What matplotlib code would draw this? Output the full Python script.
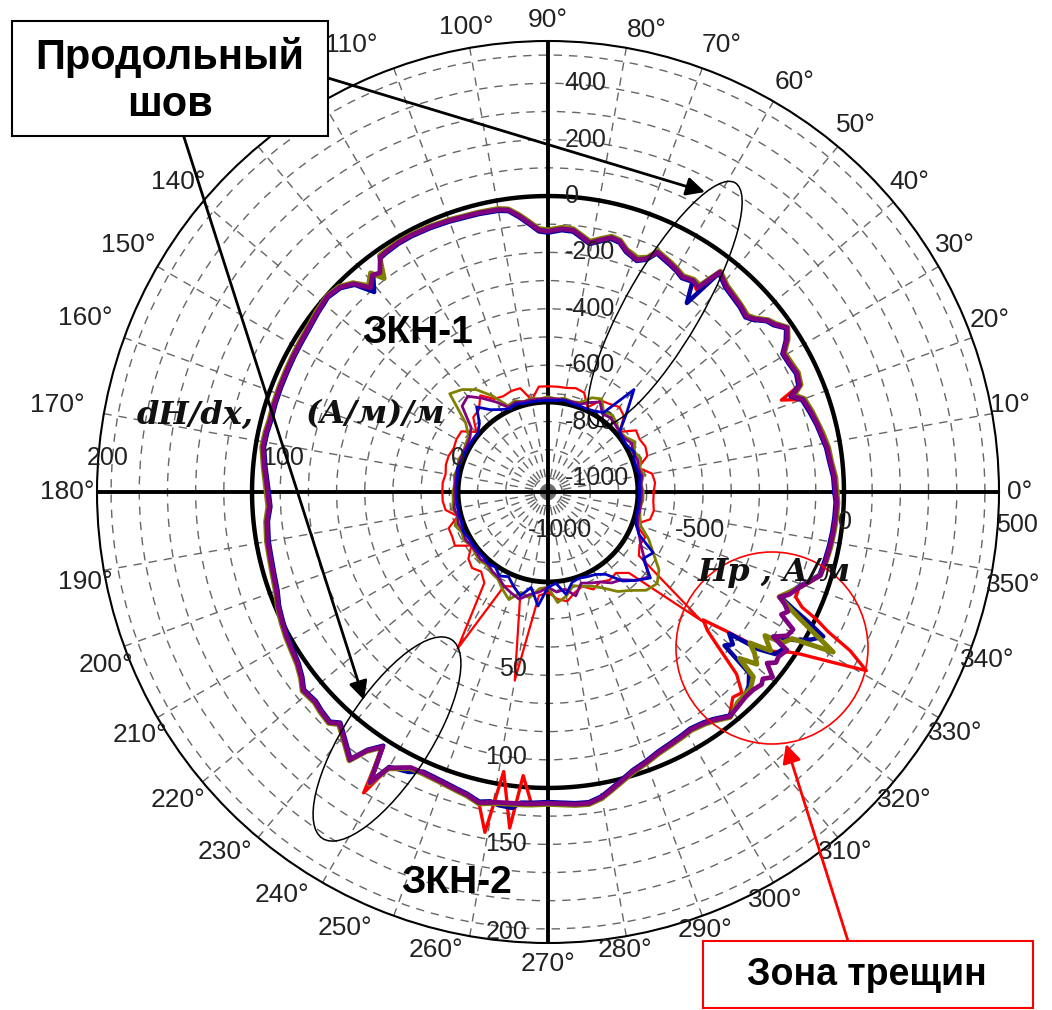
import numpy as np
import matplotlib.pyplot as plt
from matplotlib.patches import Ellipse, Rectangle, Circle, FancyArrowPatch

plt.rcParams['font.family'] = ['Liberation Sans', 'DejaVu Sans']

# Hp field around the pipe circumference, A/m (angle in degrees)
ang = [0, 3, 6, 9, 12, 14, 17, 20, 21.5, 23,
       25.5, 28, 30.5, 32.5, 34.5, 36.5, 38, 40, 41.5, 44,
       46, 49, 52, 53.7, 55.5, 58, 60, 62, 65.5, 67,
       69, 72, 74, 76, 78, 80.5, 82, 84.5, 87, 90,
       92, 94, 96, 98, 100, 104, 107, 110, 114, 118,
       121, 124, 125.5, 127.5, 129, 131, 133, 135.5, 138.5, 142,
       146, 149, 152, 155, 158.5, 162, 165.5, 168, 171, 175,
       179, 183, 186, 190, 193, 196.5, 200, 203, 206, 209,
       212, 214.5, 217, 219, 222, 224, 226.5, 228, 230, 233.5,
       235, 237, 238.5, 240, 243.5, 246, 250, 253, 255, 257.5,
       259.5, 261, 263.5, 265, 267, 270, 273, 275, 277.5, 280,
       282, 284.5, 287, 290, 293, 296, 299, 301, 304, 306,
       309, 312, 314, 316, 318, 319, 320.5, 322, 323.2, 324.5,
       326.5, 327.3, 329, 330.7, 332.3, 333.5, 334.6, 335.6, 337, 339.3,
       341, 343, 346, 349, 352, 355, 358]

hp_purple = [-30, -33, -42, -47, -58, -64, -75, -88, -120, -80,
             -71, -78, -81, -45, -21, -50, -62, -95, -110, -100,
             -95, -85, -60, -150, -140, -150, -139, -130, -115, -150,
             -168, -150, -125, -120, -135, -154, -140, -117, -115, -125,
             -120, -93, -65, -40, -33, -30, -29, -25, -21, -18,
             -18, -22, -25, -70, -60, -90, -40, -14, -4, -12,
             -21, -24, -26, -28, -29, -30, -32, -28, -26, -40,
             -53, -60, -47, -40, -38, -33, -25, -10, 0, 10,
             18, 27, 45, 68, 62, 70, 77, 55, 80, 132,
             70, 27, 160, 80, 42, 40, 46, 55, 62, 79,
             70, 65, 61, 60, 58, 54, 58, 62, 64, 50,
             30, 6, -15, -30, -46, -55, -62, -67, -60, -50,
             -25, -35, -40, -39, -30, -40, -17, -64, -40, -45,
             -33, -100, -60, -53, -115, -99, -120, -147, -120, -95,
             -70, -39, -35, -31, -28, -26, -25]

hp_olive = [-25, -28, -38, -42, -52, -60, -70, -82, -110, -75,
            -66, -72, -76, -40, -18, -45, -58, -90, -104, -96,
            -90, -80, -56, -140, -135, -145, -134, -125, -110, -145,
            -160, -145, -120, -115, -130, -148, -135, -112, -110, -120,
            -115, -88, -60, -36, -29, -27, -26, -22, -18, -15,
            -15, -18, -20, -95, -50, -80, -35, -10, -2, -8,
            -17, -20, -22, -24, -25, -26, -28, -24, -22, -36,
            -48, -55, -43, -36, -34, -29, -21, -7, 4, 14,
            22, 31, 49, 72, 66, 74, 81, 60, 84, 136,
            74, 31, 165, 84, 46, 44, 50, 59, 66, 83,
            74, 69, 65, 64, 62, 58, 62, 66, 68, 54,
            34, 10, -11, -26, -42, -51, -58, -63, -56, -46,
            -22, -45, -48, -50, -70, -150, -90, -120, -156, -80,
            -127, -60, -40, 110, 5, -60, -110, -150, -130, -95,
            -70, -40, -32, -28, -25, -22, -21]

hp_blue = [-34, -37, -46, -51, -62, -68, -80, -92, -125, -85,
           -75, -82, -85, -50, -25, -55, -66, -100, -115, -105,
           -100, -90, -65, -218, -145, -155, -143, -135, -120, -155,
           -172, -155, -130, -125, -140, -158, -145, -122, -120, -130,
           -125, -98, -70, -44, -37, -34, -33, -29, -25, -22,
           -22, -26, -29, -75, -65, -110, -45, -18, -8, -16,
           -25, -28, -30, -32, -33, -34, -36, -32, -30, -44,
           -57, -64, -51, -44, -42, -37, -29, -14, -4, 6,
           14, 23, 41, 64, 58, 66, 73, 51, 76, 128,
           66, 23, 155, 76, 60, 36, 42, 51, 58, 75,
           66, 75, 78, 56, 54, 50, 54, 58, 60, 46,
           26, 2, -19, -34, -50, -59, -66, -71, -64, -54,
           -29, -40, -45, -60, -90, -220, -200, -234, -120, -60,
           -45, -100, -30, 20, 53, -20, -90, -140, -125, -100,
           -74, -43, -39, -35, -32, -30, -29]

hp_red = [-32, -35, -44, -49, -60, -66, -78, -90, -160, -82,
          -73, -80, -83, -47, -23, -52, -64, -97, -112, -102,
          -97, -87, -62, -160, -142, -152, -141, -132, -117, -152,
          -170, -152, -127, -122, -137, -156, -142, -119, -117, -127,
          -122, -95, -67, -42, -35, -32, -31, -27, -23, -20,
          -20, -24, -27, -75, -62, -95, -42, -16, -6, -14,
          -23, -26, -28, -30, -31, -32, -34, -30, -28, -42,
          -55, -62, -49, -42, -40, -35, -27, -12, -2, 8,
          16, 25, 43, 66, 60, 68, 75, 53, 78, 134,
          68, 25, 202, 80, 44, 42, 48, 57, 64, 81,
          178, -46, 150, -40, 60, 56, 60, 64, 66, 52,
          32, 8, -13, -28, -44, -53, -60, -65, -58, -48,
          -27, -70, -60, -120, -250, -300, -337, -250, -150, -77,
          -20, 15, 120, 245, 160, 60, 5, -60, -95, -97,
          -72, -41, -37, -33, -30, -28, -27]

# dH/dx, (A/m)/m, every 5 degrees
dh_ang = list(range(0, 360, 5))
dh_red = [9, 10, 9, 2, 9, 10, 9, 10, 2, 10,
          12, 10, 9, 2, 9, 10, 9, 9, 9, 9,
          2, 10, 10, 9, 10, 16, 10, 9, 2, 9,
          9, 8, 9, 9, 8, 9, 9, 9, 8, 2,
          9, 9, 10, 2, 8, 10, 8, 12, 52, 8,
          6, 10, 58, 8, 6, 10, 12, 8, 6, 10,
          8, 10, 9, 14, 63, 12, 9, 10, 2, 9,
          10, 9]
dh_blue = [1, 1, 2, 1, 1, 3, 1, 1, 2, 12,
           25, 4, 2, 1, 1, 1, 2, 1, 1, 1,
           1, 1, 2, 1, 3, 6, 12, 4, 1, 1,
           1, 1, 1, 2, 1, 1, 1, 1, 1, 1,
           1, 2, 1, 1, 1, 1, 2, 1, 4, 2,
           6, 10, 4, 14, 3, 1, 8, 2, 1, 2,
           3, 6, 15, 20, 25, 15, 18, 6, 2, 1,
           1, 1]
dh_olive = [3, 2, 4, 3, 5, 3, 6, 3, 2, 4,
            6, 4, 10, 8, 3, 2, 3, 2, 3, 2,
            3, 2, 4, 3, 12, 20, 25, 28, 10, 4,
            3, 2, 3, 2, 3, 2, 3, 3, 4, 2,
            5, 3, 4, 2, 3, 4, 3, 5, 6, 10,
            14, 8, 10, 4, 3, 12, 9, 4, 6, 8,
            12, 18, 22, 28, 30, 26, 18, 12, 5, 3,
            2, 3]
dh_purple = [2, 2, 3, 2, 3, 2, 4, 2, 2, 3,
             4, 3, 8, 5, 2, 2, 2, 2, 2, 2,
             2, 2, 3, 2, 8, 14, 20, 18, 6, 3,
             2, 2, 2, 2, 2, 2, 2, 2, 3, 2,
             3, 2, 3, 2, 2, 3, 2, 4, 5, 8,
             10, 12, 8, 6, 3, 6, 5, 10, 4, 6,
             8, 12, 14, 20, 24, 16, 10, 6, 3, 2,
             2, 2]

theta_ticks = list(range(0, 360, 10))
# 120 and 130 degree labels sit under the caption box
theta_hidden = [120, 130]
hp_up_ticks = [400, 200, 0, -200, -400, -600, -800, -1000]
dh_left_ticks = [200, 100, 0]
dh_down_ticks = [50, 100, 150, 200]

# nudges (px, y down) for the angle labels that sit off their nominal spot
label_nudge = {10: (-3, -5), 20: (-2, -11), 30: (-2, -11), 40: (0, -7), 50: (4, -5),
               60: (11, -1), 70: (12, -3), 80: (17, 3), 110: (-35, -3),
               140: (-8, -7), 150: (-11, -11), 160: (-19, -13), 170: (-26, -5),
               180: (-9, 0), 190: (2, 8), 200: (1, 12), 210: (1, 7), 220: (-8, 5),
               230: (-20, -2), 240: (-30, -6), 250: (-42, -8), 260: (-30, -7),
               280: (-5, -7), 290: (-4, -6), 300: (-9, -1), 310: (-6, -2),
               320: (-5, 5), 330: (-2, 5), 340: (-4, 7), 350: (0, 11)}

W, H = 1052, 1010
cx, cy, R = 548, 492, 451


def P(x, y):
    # pixel position (from top-left) -> inches for dpi_scale_trans
    return (x / 100, (H - y) / 100)


fig = plt.figure(figsize=(W / 100, H / 100), dpi=100)
rect = [(cx - R) / W, (H - cy - R) / H, 2 * R / W, 2 * R / H]

ax = fig.add_axes(rect, projection='polar')
ax.set_ylim(-1050, 550)
ax.set_xticks(np.deg2rad(theta_ticks))
ax.set_xticklabels([])
ax.set_yticks(np.arange(-1000, 501, 100))
ax.set_yticklabels([])
ax.grid(True, color='#666666', linestyle=(0, (6, 5)), linewidth=1)
ax.spines['polar'].set_linewidth(1.5)

for t in theta_ticks:
    if t in theta_hidden:
        continue
    tr_ = np.deg2rad(t)
    nx, ny = label_nudge.get(t, (0, 0))
    ox = 21 * np.cos(tr_) + nx
    oy = 21 * np.sin(tr_) - ny
    ax.annotate(f'{t}°', xy=(tr_, 550), xytext=(ox * 0.72, oy * 0.72),
                textcoords='offset points', ha='center', va='center',
                fontsize=19, color='#222222', annotation_clip=False)

th = np.linspace(0, 2 * np.pi, 721)
for t in [0, 90, 180, 270]:
    ax.plot([np.deg2rad(t)] * 2, [-1050, 550], color='k', lw=2.8, zorder=3)
ax.plot(th, np.zeros_like(th), color='k', lw=3.2, zorder=3)

a = np.deg2rad(np.r_[ang, ang[0] + 360])
for vals, col, lw in [(hp_red, '#ff0000', 2.4), (hp_blue, '#0000a0', 3.2),
                      (hp_olive, '#808000', 3.6), (hp_purple, '#800080', 3.4)]:
    ax.plot(a, np.r_[vals, vals[0]], color=col, lw=lw, zorder=4)

for v in hp_up_ticks:
    ax.annotate(str(v), xy=(np.pi / 2, v), xytext=(12, 0), textcoords='offset points',
                ha='left', va='center', fontsize=18, color='#222222', zorder=5)

# second polar layer for the gradient dH/dx
ax2 = fig.add_axes(rect, projection='polar', frameon=False)
ax2.set_ylim(-51.4, 206.3)
ax2.set_axis_off()
ax2.plot(th, np.zeros_like(th), color='k', lw=3.5)
b = np.deg2rad(np.r_[dh_ang, 360])
for vals, col, lw in [(dh_red, '#ff0000', 1.6), (dh_olive, '#808000', 2.0),
                      (dh_purple, '#800080', 2.0), (dh_blue, '#0000c0', 2.0)]:
    ax2.plot(b, np.r_[vals, vals[0]], color=col, lw=lw)

for v in dh_left_ticks:
    ax2.annotate(str(v), xy=(np.pi, v), xytext=(0, 16), textcoords='offset points',
                 ha='center', va='bottom', fontsize=18, color='#222222')
for v in dh_down_ticks:
    ax2.annotate(str(v), xy=(1.5 * np.pi, v), xytext=(-15, 0), textcoords='offset points',
                 ha='right', va='center', fontsize=18, color='#222222')

# labels on the right half of the horizontal axis
for s, x, y in [('-1000', 560, 530), ('-500', 700, 530), ('0', 845, 522), ('500', 1017, 525)]:
    fig.text(x / W, 1 - y / H, s, ha='center', va='center', fontsize=18, color='#222222')

serif = dict(family='DejaVu Serif', style='italic', weight='bold', fontsize=23, color='#111111')
fig.text(137 / W, 1 - 415 / H, 'dH/dx,', ha='left', va='center', **serif)
fig.text(305 / W, 1 - 415 / H, '(A/м)/м', ha='left', va='center', **serif)
fig.text(698 / W, 1 - 572 / H, 'Hp , A/м', ha='left', va='center', **serif)

bold = dict(fontweight='bold', color='k')
fig.text(418 / W, 1 - 333 / H, 'ЗКН-1', ha='center', va='center', fontsize=28, **bold)
fig.text(457 / W, 1 - 883 / H, 'ЗКН-2', ha='center', va='center', fontsize=28, **bold)

tr = fig.dpi_scale_trans
fig.add_artist(Ellipse(P(665, 304), 2.80, 0.75, angle=60, transform=tr,
                       fill=False, ec='k', lw=1.1))
fig.add_artist(Ellipse(P(387, 739), 2.37, 0.86, angle=57, transform=tr,
                       fill=False, ec='k', lw=1.1))
fig.add_artist(Circle(P(772, 648), 0.96, transform=tr, fill=False, ec='#ff0000', lw=1.2))

fig.add_artist(FancyArrowPatch(P(328, 78), P(705, 192), transform=tr, arrowstyle='-|>',
                               mutation_scale=28, lw=2, color='k', shrinkA=0, shrinkB=0))
fig.add_artist(FancyArrowPatch(P(183, 134), P(364, 700), transform=tr, arrowstyle='-|>',
                               mutation_scale=28, lw=2, color='k', shrinkA=0, shrinkB=0))
fig.add_artist(FancyArrowPatch(P(848, 941), P(786, 744), transform=tr, arrowstyle='-|>',
                               mutation_scale=28, lw=2, color='#ff0000', shrinkA=0, shrinkB=0))

fig.add_artist(Rectangle(P(12, 136), 3.16, 1.15, transform=tr, fc='white', ec='k', lw=1.5))
fig.text(170 / W, 1 - 58 / H, 'Продольный', ha='center', va='center', fontsize=30, **bold)
fig.text(170 / W, 1 - 105 / H, 'шов', ha='center', va='center', fontsize=30, **bold)

fig.add_artist(Rectangle(P(703, 1008), 3.30, 0.67, transform=tr, fc='white', ec='#ff0000', lw=1.5))
fig.text(867 / W, 1 - 975 / H, 'Зона трещин', ha='center', va='center', fontsize=27, **bold)

fig.savefig('out.png', dpi=100)
